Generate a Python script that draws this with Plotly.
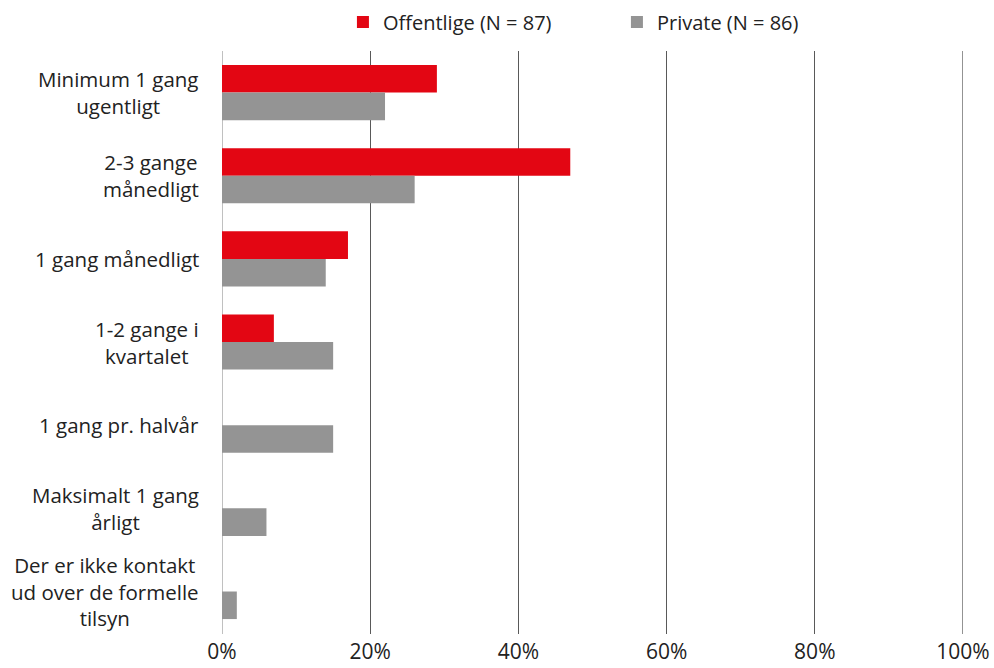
import plotly.graph_objects as go

categories = [
    "Minimum 1 gang<br>ugentligt",
    "2-3 gange<br>månedligt",
    "1 gang månedligt",
    "1-2 gange i<br>kvartalet",
    "1 gang pr. halvår",
    "Maksimalt 1 gang<br>årligt",
    "Der er ikke kontakt<br>ud over de formelle<br>tilsyn",
]
cat_keys = [f"c{i}" for i in range(len(categories))]
offentlige = [29, 47, 17, 7, 0, 0, 0]
private = [22, 26, 14, 15, 15, 6, 2]
series_names = ["Offentlige (N = 87)", "Private (N = 86)"]
tick_vals = [0, 20, 40, 60, 80, 100]
tick_text = ["0%", "20%", "40%", "60%", "80%", "100%"]

RED = "#E30613"
GRAY = "#949494"
FONT = "Open Sans"
GRID = "#595959"

fig = go.Figure()
fig.add_trace(go.Bar(y=cat_keys, x=offentlige, orientation="h", name=series_names[0],
                     marker=dict(color=RED, line=dict(width=0))))
fig.add_trace(go.Bar(y=cat_keys, x=private, orientation="h", name=series_names[1],
                     marker=dict(color=GRAY, line=dict(width=0))))

for key, label in zip(cat_keys, categories):
    fig.add_annotation(x=-0.028, xref="paper", y=key, yref="y", text=label,
                       showarrow=False, xanchor="right", yanchor="middle", align="center",
                       font=dict(family=FONT, size=20.5, color="#222222"))

# gridline at the right edge of the axis range (plotly skips the edge gridline)
fig.add_shape(type="line", xref="x", yref="paper", x0=tick_vals[-1], x1=tick_vals[-1],
              y0=0, y1=1, line=dict(color=GRID, width=1.3), layer="below")

fig.update_layout(
    width=994, height=668,
    margin=dict(l=222, r=31, t=51, b=34, autoexpand=False),
    paper_bgcolor="white", plot_bgcolor="white",
    barmode="group", bargap=0.337, bargroupgap=0,
    font=dict(family=FONT, size=20, color="#222222"),
    showlegend=True,
    legend=dict(orientation="h", xref="container", x=0.345, xanchor="left",
                yref="container", y=1 - 22 / 668, yanchor="middle",
                font=dict(family=FONT, size=20, color="#222222"),
                itemwidth=30, entrywidth=229, entrywidthmode="pixels",
                traceorder="normal", bgcolor="rgba(0,0,0,0)"),
    xaxis=dict(range=[0, 100], tickmode="array", tickvals=tick_vals, ticktext=tick_text,
               showgrid=True, gridcolor=GRID, gridwidth=1.3,
               zeroline=True, zerolinecolor="#c0c0c0", zerolinewidth=1.3,
               showline=False, ticks="", ticklabelstandoff=3,
               tickfont=dict(family=FONT, size=21, color="#222222"), fixedrange=True),
    yaxis=dict(autorange="reversed", showticklabels=False, ticks="",
               showgrid=False, zeroline=False, showline=False, fixedrange=True),
)

fig.write_html("out.html", config={"displayModeBar": False},
               post_script="document.body.style.margin='0';")
